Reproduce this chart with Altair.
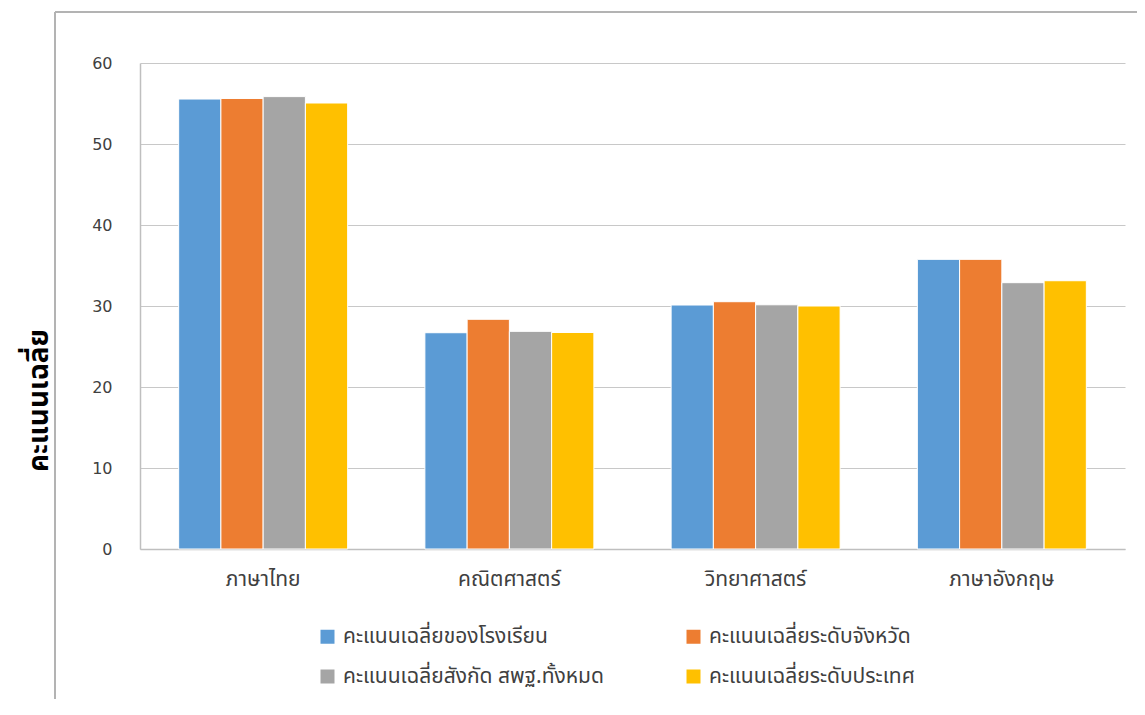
import altair as alt
import pandas as pd

subjects = ["ภาษาไทย", "คณิตศาสตร์", "วิทยาศาสตร์", "ภาษาอังกฤษ"]
series = [
    "คะแนนเฉลี่ยของโรงเรียน",
    "คะแนนเฉลี่ยระดับจังหวัด",
    "คะแนนเฉลี่ยสังกัด สพฐ.ทั้งหมด",
    "คะแนนเฉลี่ยระดับประเทศ",
]
school = [55.55, 26.70, 30.12, 35.76]
province = [55.62, 28.36, 30.53, 35.76]
obec = [55.85, 26.87, 30.15, 32.88]
nation = [55.06, 26.73, 30.00, 33.12]
colors = ["#5B9BD5", "#ED7D31", "#A5A5A5", "#FFC000"]

# legend fills column by column: order so rows read school/province, obec/nation
legend_order = [series[0], series[2], series[1], series[3]]
legend_colors = [colors[0], colors[2], colors[1], colors[3]]

rows = []
for i, s in enumerate(subjects):
    for name, vals in zip(series, [school, province, obec, nation]):
        rows.append({"subject": s, "series": name, "value": vals[i]})
df = pd.DataFrame(rows)

FONT = "Noto Sans Thai, Tahoma, DejaVu Sans, sans-serif"
NUMFONT = "DejaVu Sans"

bars = alt.Chart(df).mark_bar(stroke="white", strokeWidth=1).encode(
    x=alt.X("subject:N", sort=subjects, title=None,
            scale=alt.Scale(paddingInner=0.3137, paddingOuter=0.157),
            axis=alt.Axis(labelAngle=0, ticks=False, domainColor="#BFBFBF",
                          domainWidth=1.5, labelFont=FONT, labelFontSize=21,
                          labelColor="#404040", labelPadding=19,
                          labelBaseline="top")),
    xOffset=alt.XOffset("series:N", sort=series,
                        scale=alt.Scale(paddingInner=0, paddingOuter=0)),
    y=alt.Y("value:Q", scale=alt.Scale(domain=[0, 60]),
            title="คะแนนเฉลี่ย",
            axis=alt.Axis(values=[0, 10, 20, 30, 40, 50, 60], ticks=False,
                          domainColor="#BFBFBF", domainWidth=1.5,
                          gridColor="#C8C8C8", gridWidth=1,
                          labelFont=NUMFONT, labelFontSize=16,
                          labelColor="#404040", labelPadding=28,
                          titleFont=FONT, titleFontSize=28, titleFontWeight="bold",
                          titleColor="#000000", titleX=-101, titleY=337,
                          titleAngle=-90, titleAlign="center",
                          titleBaseline="middle")),
    color=alt.Color("series:N",
                    scale=alt.Scale(domain=legend_order, range=legend_colors),
                    legend=alt.Legend(title=None, orient="none", legendX=177,
                                      legendY=563, columns=2, columnPadding=79,
                                      rowPadding=18, symbolType="square",
                                      symbolSize=196, symbolStrokeWidth=0,
                                      labelFont=FONT, labelFontSize=21,
                                      labelOffset=5,
                                      labelColor="#404040", labelLimit=400,
                                      symbolOpacity=1)),
)

frame_top = alt.Chart(df).mark_rule(color="#B3B3B3", strokeWidth=2).encode(
    x=alt.value(-85), x2=alt.value(1010), y=alt.value(-51))
frame_left = alt.Chart(df).mark_rule(color="#B3B3B3", strokeWidth=2).encode(
    x=alt.value(-85), y=alt.value(-51), y2=alt.value(660))

chart = alt.layer(frame_top, frame_left, bars).properties(
    width=985, height=486,
    autosize=alt.AutoSizeParams(type="none"),
    padding={"left": 132, "top": 55, "right": 12, "bottom": 150},
).configure_view(stroke=None)

chart.save("out.html", embed_options={"renderer": "svg", "actions": False})
